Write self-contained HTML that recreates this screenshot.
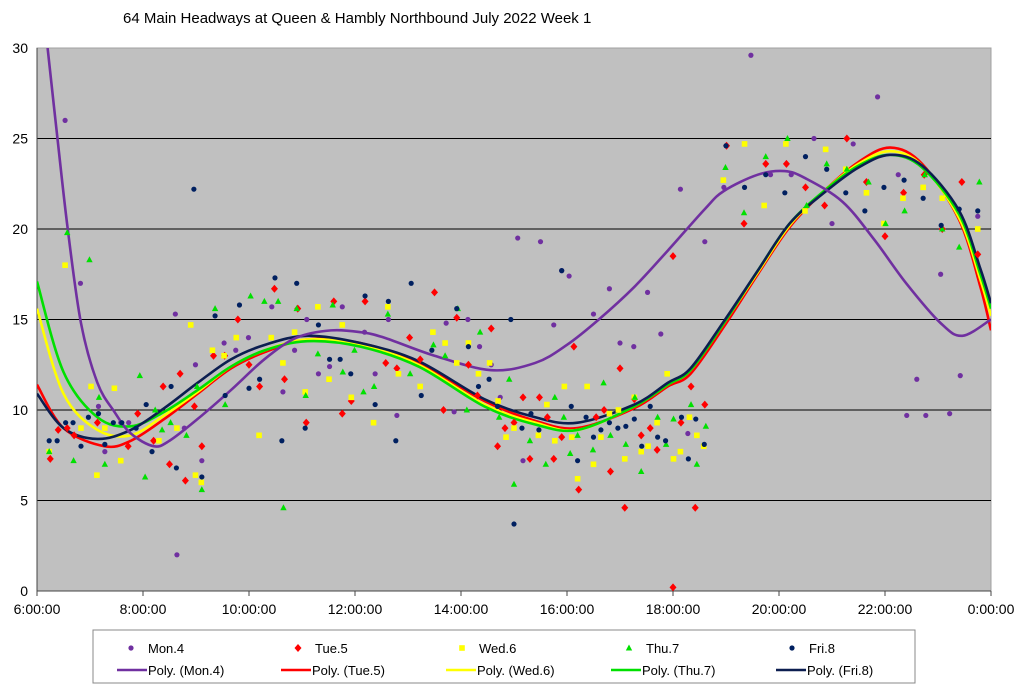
<!DOCTYPE html>
<html><head><meta charset="utf-8"><style>
body{margin:0;background:#fff;width:1024px;height:690px;overflow:hidden;font-family:"Liberation Sans",sans-serif}
</style></head><body>
<svg id="chart" width="1024" height="690" xmlns="http://www.w3.org/2000/svg" font-family="Liberation Sans, sans-serif">
<text x="123" y="23" font-size="15" fill="#000">64 Main Headways at Queen &amp; Hambly Northbound July 2022  Week 1</text>
<rect x="37" y="48" width="954" height="543" fill="#c0c0c0" stroke="#a0a0a0"/>
<g id="grid"></g><g id="axes"></g><g id="curves"></g><g id="points"></g>
<g id="legend">
<rect x="93" y="630" width="822" height="53" fill="#fff" stroke="#888"/>
</g>
</svg>
<script>
const yTicks=[0,5,10,15,20,25,30];
const xTicks=[6,8,10,12,14,16,18,20,22,24];
const xTickLabels=["6:00:00","8:00:00","10:00:00","12:00:00","14:00:00","16:00:00","18:00:00","20:00:00","22:00:00","0:00:00"];
const seriesNames=["Mon.4","Tue.5","Wed.6","Thu.7","Fri.8"];
const monPts=[[6.53,26],[6.82,17],[7.16,10.2],[7.28,7.7],[7.73,9.3],[7.58,9.3],[8.61,15.3],[8.64,2.0],[8.78,9.0],[8.99,12.5],[9.11,7.2],[9.53,13.7],[9.75,13.3],[9.99,14],[10.43,15.7],[10.64,11],[10.86,13.3],[11.09,15],[11.31,12],[11.52,12.4],[11.76,15.7],[12.18,14.3],[12.38,12],[12.63,15],[12.79,9.7],[13.72,14.8],[13.87,9.9],[14.13,15],[14.35,13.5],[14.57,12.5],[14.74,10.7],[15.07,19.5],[15.17,7.2],[15.5,19.3],[15.75,14.7],[15.9,17.7],[16.04,17.4],[16.5,15.3],[16.8,16.7],[17.0,13.7],[17.26,13.5],[17.52,16.5],[17.77,14.2],[18.14,22.2],[18.28,8.7],[18.6,19.3],[19.47,29.6],[18.96,22.3],[19.84,23],[20.23,23],[20.66,25],[21.0,20.3],[21.4,24.7],[21.86,27.3],[22.25,23],[22.41,9.7],[22.6,11.7],[22.77,9.7],[23.05,17.5],[23.22,9.8],[23.42,11.9],[23.75,20.7]];
const tuePts=[[6.25,7.3],[6.4,8.9],[6.57,9],[6.7,8.6],[7.14,9.3],[7.72,8],[7.9,9.8],[8.2,8.3],[8.38,11.3],[8.5,7],[8.7,12],[8.8,6.1],[8.97,10.2],[9.11,8],[9.33,13],[9.54,13],[9.79,15],[10,12.5],[10.2,11.3],[10.48,16.7],[10.67,11.7],[10.92,15.6],[11.08,9.3],[11.6,16],[11.76,9.8],[11.93,10.5],[12.19,16],[12.58,12.6],[12.79,12.3],[13.03,14],[13.23,12.8],[13.5,16.5],[13.67,10],[13.92,15.1],[14.14,12.5],[14.31,10.8],[14.57,14.5],[14.69,8],[14.83,9],[15,9.3],[15.17,10.7],[15.3,7.3],[15.48,10.7],[15.63,9.6],[15.75,7.3],[15.9,8.5],[16.13,13.5],[16.22,5.6],[16.55,9.6],[16.7,10],[16.82,6.6],[17,12.3],[17.09,4.6],[17.27,10.6],[17.4,8.6],[17.57,9],[17.7,7.8],[18,18.5],[18,0.2],[18.15,9.3],[18.34,11.3],[18.42,4.6],[18.6,10.3],[19.01,24.6],[19.34,20.3],[19.75,23.6],[20.14,23.6],[20.5,22.3],[20.86,21.3],[21.28,25],[21.65,22.6],[22,19.6],[22.35,22],[22.74,23],[23.08,20],[23.45,22.6],[23.75,18.6]];
const wedPts=[[6.23,7.7],[6.53,18],[6.83,9],[7.02,11.3],[7.13,6.4],[7.28,9],[7.46,11.2],[7.58,7.2],[8.3,8.3],[8.64,9],[8.9,14.7],[8.99,6.4],[9.1,6],[9.31,13.3],[9.53,13],[9.76,14],[10.19,8.6],[10.42,14],[10.64,12.6],[10.86,14.3],[11.06,11],[11.3,15.7],[11.51,11.7],[11.76,14.7],[11.93,10.7],[12.35,9.3],[12.62,15.7],[12.82,12],[13.23,11.3],[13.47,14.3],[13.7,13.7],[13.92,12.6],[14.14,13.7],[14.33,12],[14.54,12.6],[14.7,10.5],[14.85,8.5],[15,9],[15.46,8.6],[15.62,10.3],[15.77,8.3],[15.95,11.3],[16.09,8.5],[16.2,6.2],[16.38,11.3],[16.5,7],[16.64,8.5],[16.8,9.8],[16.97,10],[17.09,7.3],[17.27,10.7],[17.4,7.7],[17.53,8],[17.7,9.3],[17.89,12],[18.01,7.3],[18.14,7.7],[18.31,9.6],[18.45,8.6],[18.58,8],[18.95,22.7],[19.35,24.7],[19.72,21.3],[20.13,24.7],[20.49,21],[20.88,24.4],[21.26,23.3],[21.65,22],[21.98,20.3],[22.34,21.7],[22.72,22.3],[23.08,21.7],[23.75,20]];
const thuPts=[[6.23,7.7],[6.57,19.8],[6.99,18.3],[6.69,7.2],[7.17,10.7],[7.28,7],[7.94,11.9],[8.04,6.3],[8.23,10],[8.36,8.9],[8.52,9.3],[8.82,8.6],[9.02,11.3],[9.11,5.6],[9.36,15.6],[9.55,10.3],[10.03,16.3],[10.29,16],[10.55,16],[10.65,4.6],[10.9,15.6],[11.07,10.8],[11.3,13.1],[11.58,15.8],[11.77,12.1],[11.99,13.3],[12.16,11],[12.36,11.3],[12.62,15.3],[13.04,12],[13.48,13.6],[13.7,13],[13.94,15.6],[14.11,10],[14.36,14.3],[14.72,9.6],[14.91,11.7],[15,5.9],[15.3,8.3],[15.6,7],[15.77,10.7],[15.94,9.6],[16.06,7.6],[16.2,8.6],[16.49,7.8],[16.69,11.5],[16.82,8.6],[17.11,8.1],[17.28,10.7],[17.4,6.6],[17.71,9.6],[17.87,8.1],[18.01,9.5],[18.34,10.3],[18.45,7],[18.62,9.1],[18.99,23.4],[19.34,20.9],[19.75,24],[20.16,25],[20.52,21.3],[20.9,23.6],[21.28,23.3],[21.69,22.6],[22.01,20.3],[22.37,21],[22.75,23],[23.08,20],[23.4,19],[23.78,22.6]];
const friPts=[[6.23,8.3],[6.38,8.3],[6.54,9.3],[6.68,9.3],[6.83,8],[6.97,9.6],[7.16,9.8],[7.28,8.1],[7.44,9.3],[7.6,9.3],[7.87,9],[8.06,10.3],[8.17,7.7],[8.53,11.3],[8.63,6.8],[8.96,22.2],[9.11,6.3],[9.36,15.2],[9.55,10.8],[9.82,15.8],[10,11.2],[10.2,11.7],[10.49,17.3],[10.62,8.3],[10.9,17],[11.06,9],[11.31,14.7],[11.52,12.8],[11.72,12.8],[11.92,12],[12.19,16.3],[12.38,10.3],[12.63,16],[12.77,8.3],[13.06,17],[13.25,10.8],[13.45,13.3],[13.92,15.6],[14.14,13.5],[14.33,11.3],[14.53,11.7],[14.69,10.2],[14.94,15],[15,3.7],[15.15,9],[15.32,9.8],[15.47,8.9],[15.9,17.7],[16.08,10.2],[16.2,7.2],[16.36,9.6],[16.5,8.5],[16.64,8.9],[16.8,9.3],[16.96,9],[17.11,9.1],[17.27,9.5],[17.41,8],[17.57,10.2],[17.71,8.5],[17.86,8.3],[18.16,9.6],[18.29,7.3],[18.43,9.5],[18.59,8.1],[19,24.6],[19.35,22.3],[19.75,23],[20.11,22],[20.5,24],[20.9,23.3],[21.26,22],[21.62,21],[21.98,22.3],[22.36,22.7],[22.72,21.7],[23.06,20.2],[23.4,21.1],[23.75,21]];
const monFit=[[6.2,30],[6.39,24.9],[6.58,20],[6.83,14.8],[7.14,11.5],[7.46,9.9],[7.77,8.7],[8.2,8.0],[8.5,8.3],[9.03,9.5],[9.66,11.1],[10.29,12.8],[10.9,14.0],[11.55,14.4],[12.1,14.3],[12.55,14.0],[13.5,13.0],[14.57,12.2],[15.4,12.6],[16.0,13.6],[16.6,15.0],[17.27,16.8],[17.9,18.8],[18.6,21.1],[18.96,22.1],[19.6,23.0],[20.1,23.2],[20.5,22.8],[21.2,21.5],[21.8,19.4],[22.4,17.0],[23.05,14.8],[23.46,14.1],[24,15.0]];
const tueFit=[[6,11.4],[6.5,9.0],[7.27,8.0],[7.77,8.3],[8.4,9.5],[9.03,10.9],[9.66,12.3],[10.3,13.2],[11.1,13.9],[12.1,13.7],[13.2,12.6],[14.44,10.5],[15.4,9.4],[16.2,9.0],[17.27,10.1],[17.9,11.3],[18.33,12.0],[18.96,14.6],[19.6,17.5],[20.2,20.1],[20.85,22.1],[21.5,23.7],[22.1,24.5],[22.7,23.6],[23.4,20.5],[23.8,16.8],[24,14.4]];
const wedFit=[[6,15.6],[6.5,10.9],[7.14,8.9],[7.77,8.6],[8.4,9.7],[9.03,11.0],[9.66,12.4],[10.3,13.3],[11.1,13.9],[12.1,13.6],[13.2,12.5],[14.44,10.3],[15.4,9.3],[16.2,8.9],[17.27,10.2],[17.9,11.4],[18.33,12.2],[18.96,14.8],[19.6,17.6],[20.2,20.2],[20.85,22.1],[21.5,23.6],[22.1,24.3],[22.7,23.5],[23.4,20.6],[23.8,17.2],[24,15.2]];
const thuFit=[[6,17.1],[6.5,12.1],[7.14,9.6],[7.77,9.1],[8.4,9.9],[9.03,11.1],[9.66,12.4],[10.3,13.3],[11.1,13.8],[12.1,13.5],[13.2,12.4],[14.44,10.2],[15.4,9.2],[16.2,8.9],[17.27,10.2],[17.9,11.4],[18.33,12.2],[18.96,14.8],[19.6,17.7],[20.2,20.3],[20.85,22.1],[21.5,23.5],[22.1,24.1],[22.7,23.4],[23.4,20.8],[23.8,17.5],[24,15.6]];
const friFit=[[6,10.9],[6.5,9.0],[7.14,8.4],[7.77,8.9],[8.4,10.1],[9.03,11.5],[9.66,12.8],[10.3,13.6],[11.1,14.1],[12.1,13.7],[13.2,12.7],[14.44,10.6],[15.4,9.6],[16.2,9.3],[17.27,10.3],[17.9,11.5],[18.33,12.3],[18.96,14.9],[19.6,17.7],[20.2,20.3],[20.85,22.0],[21.5,23.4],[22.1,24.1],[22.7,23.5],[23.4,21.0],[23.8,17.8],[24,15.9]];

const NS="http://www.w3.org/2000/svg";
const X0=37,X1=991,Y0=591,Y1=48;
function xs(h){return X0+(h-6)/18*(X1-X0);}
function ys(v){return Y0-v/30*(Y0-Y1);}
function mk(tag,attrs,parent){const e=document.createElementNS(NS,tag);for(const k in attrs)e.setAttribute(k,attrs[k]);parent.appendChild(e);return e;}
const grid=document.getElementById('grid'),axes=document.getElementById('axes');
yTicks.forEach(v=>{
  if(v>0&&v<30){const l=mk('line',{x1:X0,x2:X1,y1:ys(v),y2:ys(v),stroke:'#000','stroke-width':1},grid);
  
  }
  const t=mk('text',{x:28,y:ys(v)+5,'text-anchor':'end','font-size':14,fill:'#000'},axes);
  t.textContent=v;
  
  
});
mk('line',{x1:X0,x2:X0,y1:Y1,y2:Y0,stroke:'#444'},axes);
mk('line',{x1:X0,x2:X1,y1:Y0,y2:Y0,stroke:'#444'},axes);
xTicks.forEach((h,i)=>{
  mk('line',{x1:xs(h),x2:xs(h),y1:Y0,y2:Y0+5,stroke:'#444'},axes);
  const t=mk('text',{x:xs(h),y:614,'text-anchor':'middle','font-size':14,fill:'#000'},axes);
  t.textContent=xTickLabels[i];
  
  
});
const colors=['#7030a0','#ff0000','#ffff00','#00e000','#002060'];
const curveColors=['#7030a0','#ff0000','#ffff00','#00e000','#0c1e50'];
const fits=[monFit,tueFit,wedFit,thuFit,friFit];
const pts=[monPts,tuePts,wedPts,thuPts,friPts];
function smooth(arr){const p=arr.map(a=>[xs(a[0]),ys(a[1])]);let d='M'+p[0][0]+','+p[0][1];
 for(let i=0;i<p.length-1;i++){const a=p[i-1]||p[i],b=p[i],c=p[i+1],e=p[i+2]||c;
 d+=' C'+(b[0]+(c[0]-a[0])/6)+','+(b[1]+(c[1]-a[1])/6)+' '+(c[0]-(e[0]-b[0])/6)+','+(c[1]-(e[1]-b[1])/6)+' '+c[0]+','+c[1];}return d;}
function marker(k,x,y,parent){
  let e;
  if(k===0||k===4)e=mk('circle',{cx:x,cy:y,r:2.6,fill:colors[k]},parent);
  else if(k===1)e=mk('polygon',{points:`${x},${y-4} ${x+3.5},${y} ${x},${y+4} ${x-3.5},${y}`,fill:colors[k]},parent);
  else if(k===2)e=mk('rect',{x:x-2.8,y:y-2.8,width:5.6,height:5.6,fill:colors[k]},parent);
  else e=mk('polygon',{points:`${x},${y-3.5} ${x+3.2},${y+2.5} ${x-3.2},${y+2.5}`,fill:colors[k]},parent);
  return e;
}
const pg=document.getElementById('points'),cg=document.getElementById('curves');
pts.forEach((s,k)=>s.forEach(p=>{const e=marker(k,xs(p[0]),ys(p[1]),pg);
  
  }));
const clip=mk('clipPath',{id:'pc'},document.getElementById('chart'));mk('rect',{x:X0,y:Y1,width:X1-X0,height:Y0-Y1},clip);
cg.setAttribute('clip-path','url(#pc)');
[1,2,3,4,0].forEach(k=>{const e=mk('path',{d:smooth(fits[k]),fill:'none',stroke:curveColors[k],'stroke-width':2.6},cg);
  
  });
const lg=document.getElementById('legend');
const mx=[131,298,462,629,792],lx=[117,281,446,611,776];
seriesNames.forEach((n,k)=>{
  const m=marker(k,mx[k],648,lg);
  
  
  const t=mk('text',{x:mx[k]+17,y:653,'font-size':13,fill:'#000'},lg);t.textContent=n;
  
  
  const l=mk('line',{x1:lx[k],x2:lx[k]+30,y1:670,y2:670,stroke:curveColors[k],'stroke-width':2.6},lg);
  
  
  const t2=mk('text',{x:lx[k]+31,y:675,'font-size':13,fill:'#000'},lg);t2.textContent='Poly. ('+n+')';
  
  
});
</script>
</body></html>
